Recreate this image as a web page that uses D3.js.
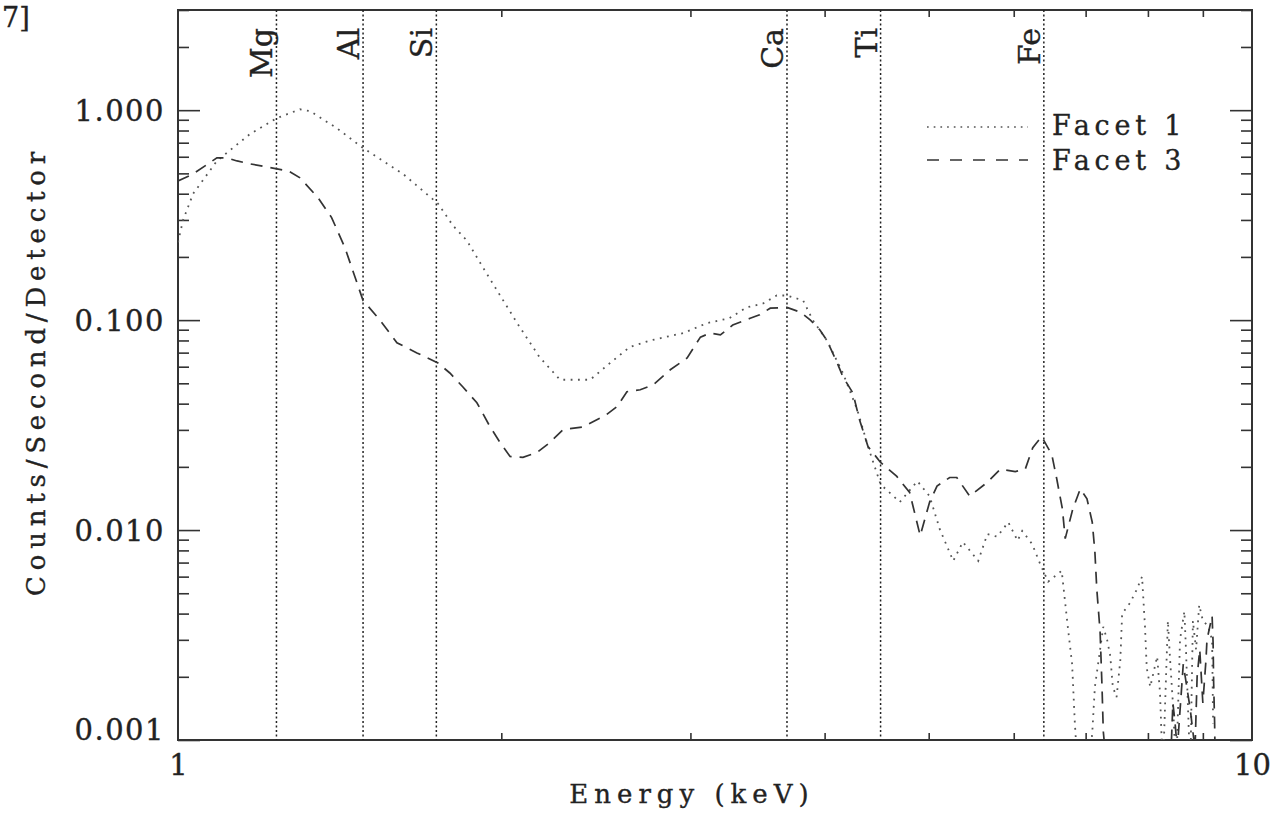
<!DOCTYPE html>
<html><head><meta charset="utf-8">
<script src="https://cdn.jsdelivr.net/npm/d3@7"></script>
<style>
html,body{margin:0;padding:0;background:#fff;}
svg{display:block;}
text{font-family:"DejaVu Serif",serif;fill:#222;stroke:#222;stroke-width:0.35px;}
</style></head><body>
<svg id="chart" width="1275" height="813"></svg>
<script>
// ---- data ----
const facet1Energy = [1.00,1.011,1.033,1.087,1.167,1.236,1.299,1.327,1.406,1.487,1.62,1.746,1.803,1.858,1.923,1.981,2.069,2.17,2.268,2.42,2.525,2.635,2.753,2.953,3.11,3.26,3.385,3.506,3.61,3.69,3.82,3.90,4.02,4.16,4.29,4.39,4.51,4.70,4.88,5.01,5.12,5.27,5.38,5.56,5.67,5.79,5.93,6.05,6.11,6.24,6.36,6.46,6.65,6.74,6.80,6.84,6.90,7.02,7.10,7.14,7.27,7.33,7.38,7.42,7.48,7.54,7.57,7.70,7.81,7.90,7.95,7.98,8.04,8.16,8.21,8.26,8.35,8.39,8.44,8.50,8.57,8.65,8.68,8.76,8.81,8.87,8.93,9.00,9.10,9.18,9.20];
const facet1Counts = [0.235,0.30,0.40,0.573,0.77,0.916,1.01,0.99,0.82,0.66,0.497,0.359,0.282,0.239,0.178,0.139,0.0968,0.0668,0.052,0.052,0.0625,0.0745,0.080,0.0867,0.0968,0.102,0.115,0.12,0.131,0.131,0.124,0.10,0.080,0.056,0.0374,0.025,0.0165,0.0136,0.0171,0.0145,0.0101,0.00713,0.00877,0.00713,0.00957,0.0093,0.0109,0.0089,0.0099,0.0086,0.00676,0.00568,0.0064,0.0034,0.0023,0.0012,0.0006,0.0006,0.00108,0.00179,0.00346,0.0030,0.00251,0.00179,0.0016,0.00239,0.0040,0.0045,0.0052,0.0060,0.00346,0.0022,0.00179,0.0025,0.00168,0.0007,0.0037,0.0024,0.0015,0.0007,0.003,0.0041,0.0027,0.0007,0.0037,0.0027,0.0044,0.0037,0.0035,0.0030,0.0012];
const facet3Energy = [1.00,1.033,1.087,1.11,1.135,1.167,1.236,1.267,1.299,1.35,1.39,1.43,1.487,1.542,1.599,1.669,1.746,1.791,1.842,1.898,1.952,1.995,2.038,2.095,2.159,2.219,2.283,2.383,2.507,2.564,2.618,2.694,2.77,2.873,2.979,3.065,3.129,3.199,3.285,3.41,3.48,3.56,3.69,3.80,3.88,3.96,4.02,4.11,4.16,4.25,4.31,4.39,4.51,4.67,4.80,4.91,5.01,5.09,5.23,5.31,5.46,5.67,5.83,6.02,6.15,6.25,6.37,6.51,6.58,6.66,6.70,6.81,6.92,7.02,7.10,7.14,7.17,7.22,7.25,7.27,7.35,8.35,8.40,8.44,8.48,8.52,8.63,8.76,8.85,8.89,8.94,9.00,9.06,9.08,9.18,9.20,9.21,9.23,9.24];
const facet3Counts = [0.46,0.497,0.593,0.593,0.573,0.555,0.525,0.514,0.476,0.383,0.308,0.222,0.124,0.10,0.078,0.0698,0.0625,0.056,0.048,0.0404,0.0311,0.0261,0.0224,0.0222,0.0234,0.0261,0.0301,0.031,0.0355,0.0388,0.0456,0.0466,0.0492,0.058,0.066,0.083,0.0867,0.085,0.0947,0.102,0.106,0.114,0.115,0.109,0.10,0.0897,0.08,0.0625,0.0537,0.045,0.0336,0.025,0.021,0.018,0.0151,0.0094,0.0136,0.0162,0.0178,0.0178,0.0145,0.0169,0.0195,0.019,0.0195,0.0247,0.0279,0.0229,0.0175,0.0126,0.0091,0.0126,0.0157,0.0141,0.0109,0.0079,0.0052,0.0033,0.0018,0.0011,0.0006,0.0006,0.0008,0.0015,0.0012,0.0009,0.0023,0.0014,0.0009,0.0020,0.0027,0.0015,0.0024,0.0030,0.0039,0.0029,0.0019,0.0012,0.0008];
const lineNames = ["Mg","Al","Si","Ca","Ti","Fe"];
const lineEnergies = [1.235,1.487,1.740,3.69,4.51,6.40];
const yTickValues = [0.001,0.01,0.1,1];
const yTickLabels = ["0.001","0.010","0.100","1.000"];
const xTickValues = [1,10];
const xTickLabels = ["1","10"];
const legendLabels = ["Facet 1","Facet 3"];
const xTitle = "Energy (keV)";
const yTitle = "Counts/Second/Detector";

// ---- layout ----
const L = 178, R = 1252, T = 10, B = 740;
const svg = d3.select("#chart");
const x = d3.scaleLog().domain([1,10]).range([L,R]);
const y = d3.scaleLog().domain([0.001,3]).range([B,T]);

// minor tick positions
const xMinor = d3.range(2,10);
const yMinor = [];
[0.001,0.01,0.1,1].forEach(d => { for (let k=2;k<=9;k++){ const v=d*k; if (v<=3) yMinor.push(v);} });

const ink = "#333";
function styleAxis(g){
  g.select(".domain").remove();
  g.selectAll(".tick line").attr("stroke",ink).attr("stroke-width",1.6);
}

// y axis majors (left) with labels
const yAxisL = svg.append("g").attr("transform",`translate(${L},0)`)
  .call(d3.axisLeft(y).tickValues(yTickValues).tickSizeInner(-22).tickSizeOuter(0).tickPadding(13)
        .tickFormat((d,i)=>yTickLabels[i]));
styleAxis(yAxisL);
yAxisL.selectAll(".tick text").attr("font-family","DejaVu Serif").attr("font-size",29)
  .attr("letter-spacing","1.5px").attr("fill","#222")
  .attr("dy",(d)=> d===0.001 ? "-0.02em" : "0.36em");
// y minor left
styleAxis(svg.append("g").attr("transform",`translate(${L},0)`)
  .call(d3.axisLeft(y).tickValues(yMinor).tickSizeInner(-11).tickSizeOuter(0).tickFormat("")));
// right side
styleAxis(svg.append("g").attr("transform",`translate(${R},0)`)
  .call(d3.axisRight(y).tickValues(yTickValues).tickSizeInner(-22).tickSizeOuter(0).tickFormat("")));
styleAxis(svg.append("g").attr("transform",`translate(${R},0)`)
  .call(d3.axisRight(y).tickValues(yMinor).tickSizeInner(-11).tickSizeOuter(0).tickFormat("")));

// x axis
const xAxisB = svg.append("g").attr("transform",`translate(0,${B})`)
  .call(d3.axisBottom(x).tickValues(xTickValues).tickSizeInner(0).tickSizeOuter(0).tickPadding(14)
        .tickFormat((d,i)=>xTickLabels[i]));
styleAxis(xAxisB);
xAxisB.selectAll(".tick text").attr("font-family","DejaVu Serif").attr("font-size",29).attr("fill","#222");
styleAxis(svg.append("g").attr("transform",`translate(0,${B})`)
  .call(d3.axisBottom(x).tickValues(xMinor).tickSizeInner(-7).tickSizeOuter(0).tickFormat("")));
styleAxis(svg.append("g").attr("transform",`translate(0,${T})`)
  .call(d3.axisTop(x).tickValues(xMinor).tickSizeInner(-7).tickSizeOuter(0).tickFormat("")));

// frame
svg.append("rect").attr("x",L).attr("y",T).attr("width",R-L).attr("height",B-T)
  .attr("fill","none").attr("stroke",ink).attr("stroke-width",2);

// clip
svg.append("defs").append("clipPath").attr("id","plotclip")
  .append("rect").attr("x",L).attr("y",T).attr("width",R-L).attr("height",B-T);
const plot = svg.append("g").attr("clip-path","url(#plotclip)");

// element lines
lineEnergies.forEach((e,i)=>{
  plot.append("line").attr("x1",x(e)).attr("x2",x(e)).attr("y1",T).attr("y2",B)
    .attr("stroke","#222").attr("stroke-width",1.5).attr("stroke-dasharray","2,2.5");
  svg.append("text").attr("transform",`translate(${x(e)-4},28) rotate(-90)`)
    .attr("text-anchor","end").attr("font-size",30).text(lineNames[i]);
});

// curves
const line = d3.line().x(d=>x(d[0])).y(d=>y(d[1]));
const f1 = facet1Energy.map((e,i)=>[e,facet1Counts[i]]);
const f3 = facet3Energy.map((e,i)=>[e,facet3Counts[i]]);
plot.append("path").attr("d",line(f1)).attr("fill","none").attr("stroke","#555")
  .attr("stroke-width",1.8).attr("stroke-dasharray","1.8,5.5");
plot.append("path").attr("d",line(f3)).attr("fill","none").attr("stroke","#333")
  .attr("stroke-width",1.7).attr("stroke-dasharray","12,8");

// legend
const legY = [127,160];
const legDash = ["1.7,5","12,11"];
const legCol = ["#555","#333"];
legendLabels.forEach((lab,i)=>{
  svg.append("line").attr("x1",927).attr("x2",1028).attr("y1",legY[i]).attr("y2",legY[i])
    .attr("stroke",legCol[i]).attr("stroke-width",1.7).attr("stroke-dasharray",legDash[i]);
  svg.append("text").attr("x",1052).attr("y",legY[i]+8+i*2).attr("font-size",27)
    .attr("letter-spacing","4.8px").text(lab);
});

// axis titles
svg.append("text").attr("x",692).attr("y",803).attr("text-anchor","middle")
  .attr("font-size",26).attr("letter-spacing","6px").text(xTitle);
svg.append("text").attr("transform","translate(45,371) rotate(-90)").attr("text-anchor","middle")
  .attr("font-size",26).attr("letter-spacing","5.8px").text(yTitle);

// fragment at top-left of the source page
svg.append("text").attr("x",2).attr("y",27).attr("font-family","Liberation Sans, Arial, sans-serif")
  .attr("font-size",27).attr("fill","#111").attr("stroke","none").text("7]");
</script>
</body></html>
